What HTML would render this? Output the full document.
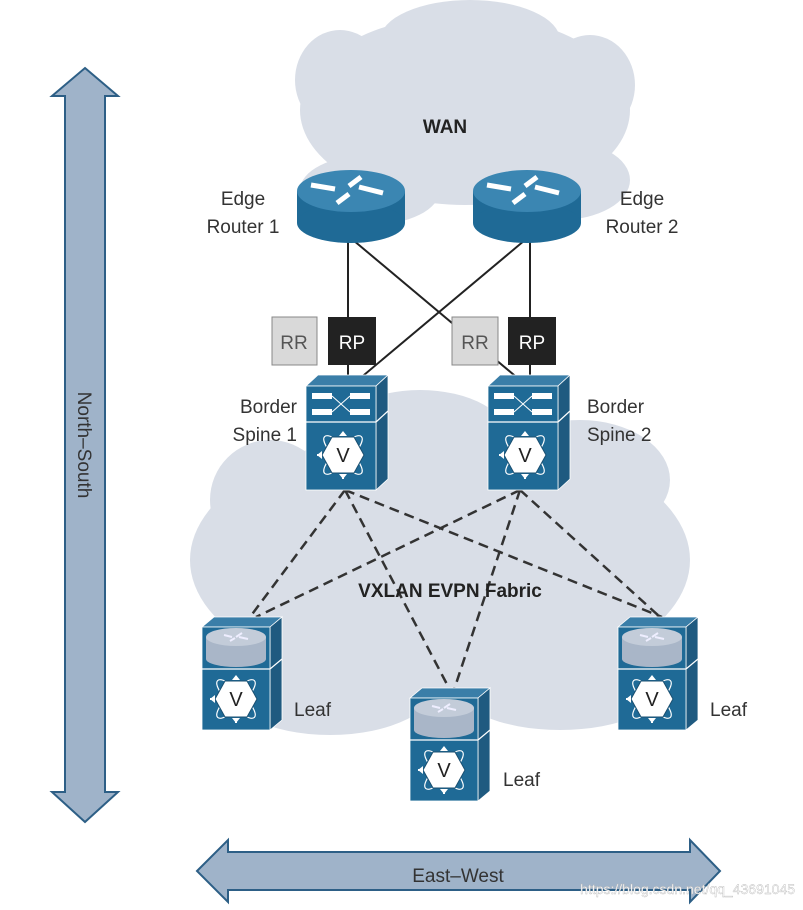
<!DOCTYPE html>
<html><head><meta charset="utf-8"><style>
html,body{margin:0;padding:0;background:#fff}
svg{display:block}
text{font-family:"Liberation Sans",sans-serif;fill:#333}
</style></head><body>
<svg width="803" height="910" viewBox="0 0 803 910" xmlns="http://www.w3.org/2000/svg">
<defs>
<g id="hex">
  <g fill="none" stroke="#fff" stroke-width="1.2">
    <ellipse cx="0" cy="0" rx="26" ry="8" transform="rotate(45)"/>
    <ellipse cx="0" cy="0" rx="26" ry="8" transform="rotate(-45)"/>
  </g>
  <polygon points="-21,0 -11,-18 11,-18 21,0 11,18 -11,18" fill="#fff" stroke="#1a4f70" stroke-width="1"/>
  <text x="0" y="7" font-size="20" text-anchor="middle" style="fill:#222">V</text>
  <path d="M0,-24 l-4,5 h8z M0,24 l-4,-5 h8z M-26,0 l5,-4 v8z" fill="#fff"/>
  <path d="M0,19 v5 M-21,0 h-5" stroke="#fff" stroke-width="2"/>
</g>
<g id="spine">
  <polygon points="0,11 12,0 82,0 70,11" fill="#3a7ea8" stroke="#fff" stroke-width="0.8"/>
  <polygon points="70,11 82,0 82,104 70,115" fill="#1f5a80" stroke="#fff" stroke-width="0.8"/>
  <rect x="0" y="11" width="70" height="104" fill="#1f6a96" stroke="#fff" stroke-width="0.8"/>
  <line x1="0" y1="47" x2="70" y2="47" stroke="#fff" stroke-width="1.2"/>
  <line x1="70" y1="47" x2="82" y2="36" stroke="#fff" stroke-width="1.2"/>
  <rect x="6" y="18" width="20" height="6" fill="#fff"/><rect x="44" y="18" width="20" height="6" fill="#fff"/>
  <rect x="6" y="34" width="20" height="6" fill="#fff"/><rect x="44" y="34" width="20" height="6" fill="#fff"/>
  <path d="M26,21 L44,37 M26,37 L44,21" stroke="#fff" stroke-width="1"/>
  <use href="#hex" x="37" y="80"/>
</g>
<g id="leaf">
  <polygon points="0,10 12,0 80,0 68,10" fill="#3a7ea8" stroke="#fff" stroke-width="0.8"/>
  <polygon points="68,10 80,0 80,103 68,113" fill="#1f5a80" stroke="#fff" stroke-width="0.8"/>
  <rect x="0" y="10" width="68" height="103" fill="#1f6a96" stroke="#fff" stroke-width="0.8"/>
  <rect x="4" y="20" width="60" height="22" fill="#a9b6c8"/>
  <ellipse cx="34" cy="42" rx="30" ry="8" fill="#a9b6c8"/>
  <ellipse cx="34" cy="20" rx="30" ry="9" fill="#c3ccd9"/>
  <path d="M22,18 l8,2 M40,16 l-6,4 M46,22 l-9,-2 M28,24 l5,-3" stroke="#eef" stroke-width="2"/>
  <line x1="0" y1="52" x2="68" y2="52" stroke="#fff" stroke-width="1.2"/>
  <line x1="68" y1="52" x2="80" y2="42" stroke="#fff" stroke-width="1.2"/>
  <use href="#hex" x="34" y="82"/>
</g>
<g id="router">
  <rect x="-54" y="0" width="108" height="32" fill="#1f6a96"/>
  <ellipse cx="0" cy="32" rx="54" ry="20" fill="#1f6a96"/>
  <ellipse cx="0" cy="0" rx="54" ry="21" fill="#3b86b2"/>
  <path d="M-40,-6 l24,4 M10,-14 l-12,9 M32,2 l-24,-6 M-14,12 l12,-9" stroke="#fff" stroke-width="5"/>
</g>
</defs>

<!-- clouds -->
<g fill="#d9dee7">
  <ellipse cx="465" cy="110" rx="165" ry="95"/>
  <ellipse cx="470" cy="40" rx="90" ry="40"/>
  <ellipse cx="340" cy="80" rx="45" ry="50"/>
  <ellipse cx="590" cy="85" rx="45" ry="50"/>
  <ellipse cx="370" cy="190" rx="70" ry="35"/>
  <ellipse cx="560" cy="180" rx="70" ry="40"/>
  <ellipse cx="440" cy="560" rx="250" ry="130"/>
  <ellipse cx="420" cy="440" rx="90" ry="50"/>
  <ellipse cx="580" cy="480" rx="90" ry="60"/>
  <ellipse cx="270" cy="500" rx="60" ry="60"/>
  <ellipse cx="330" cy="680" rx="110" ry="55"/>
  <ellipse cx="560" cy="680" rx="110" ry="50"/>
</g>

<!-- arrows -->
<polygon points="85,68 118,96 105,96 105,792 118,792 85,822 52,792 65,792 65,96 52,96" fill="#9fb3c9" stroke="#2d5f86" stroke-width="2"/>
<text transform="translate(78,445) rotate(90)" font-size="19" text-anchor="middle">North–South</text>
<polygon points="197,871 228,840 228,852 690,852 690,840 720,871 690,902 690,890 228,890 228,902" fill="#9fb3c9" stroke="#2d5f86" stroke-width="2"/>
<text x="458" y="882" font-size="19" text-anchor="middle">East–West</text>

<!-- solid links -->
<g stroke="#222" stroke-width="2">
  <line x1="348" y1="240" x2="348" y2="380"/>
  <line x1="530" y1="240" x2="530" y2="380"/>
  <line x1="353" y1="240" x2="520" y2="380"/>
  <line x1="525" y1="240" x2="358" y2="380"/>
</g>

<!-- RR/RP -->
<rect x="272" y="317" width="45" height="48" fill="#d9d9d9" stroke="#888"/>
<text x="294" y="349" font-size="19" text-anchor="middle" style="fill:#555">RR</text>
<rect x="328" y="317" width="48" height="48" fill="#222"/>
<text x="352" y="349" font-size="19" text-anchor="middle" style="fill:#fff">RP</text>
<rect x="452" y="317" width="46" height="48" fill="#d9d9d9" stroke="#888"/>
<text x="475" y="349" font-size="19" text-anchor="middle" style="fill:#555">RR</text>
<rect x="508" y="317" width="48" height="48" fill="#222"/>
<text x="532" y="349" font-size="19" text-anchor="middle" style="fill:#fff">RP</text>

<!-- dashed links -->
<g stroke="#333" stroke-width="2.5" stroke-dasharray="10,6">
  <line x1="345" y1="490" x2="250" y2="617"/>
  <line x1="345" y1="490" x2="450" y2="690"/>
  <line x1="345" y1="490" x2="662" y2="617"/>
  <line x1="520" y1="490" x2="256" y2="617"/>
  <line x1="520" y1="490" x2="454" y2="690"/>
  <line x1="520" y1="490" x2="660" y2="617"/>
</g>

<!-- routers -->
<use href="#router" x="351" y="191"/>
<use href="#router" x="527" y="191"/>

<!-- spines -->
<use href="#spine" x="306" y="375"/>
<use href="#spine" x="488" y="375"/>

<!-- leaves -->
<use href="#leaf" x="202" y="617"/>
<use href="#leaf" x="410" y="688"/>
<use href="#leaf" x="618" y="617"/>

<!-- labels -->
<text x="445" y="133" font-size="19" font-weight="bold" text-anchor="middle" style="fill:#222">WAN</text>
<text x="243" y="205" font-size="19" text-anchor="middle">Edge</text>
<text x="243" y="233" font-size="19" text-anchor="middle">Router 1</text>
<text x="642" y="205" font-size="19" text-anchor="middle">Edge</text>
<text x="642" y="233" font-size="19" text-anchor="middle">Router 2</text>
<text x="297" y="413" font-size="19" text-anchor="end">Border</text>
<text x="297" y="441" font-size="19" text-anchor="end">Spine 1</text>
<text x="587" y="413" font-size="19">Border</text>
<text x="587" y="441" font-size="19">Spine 2</text>
<text x="450" y="597" font-size="19" font-weight="bold" text-anchor="middle" style="fill:#222">VXLAN EVPN Fabric</text>
<text x="294" y="716" font-size="19">Leaf</text>
<text x="503" y="786" font-size="19">Leaf</text>
<text x="710" y="716" font-size="19">Leaf</text>
<text x="795" y="894" font-size="14" text-anchor="end" style="fill:#fff;stroke:#bbb;stroke-width:0.4">https://blog.csdn.net/qq_43691045</text>
</svg>
</body></html>
